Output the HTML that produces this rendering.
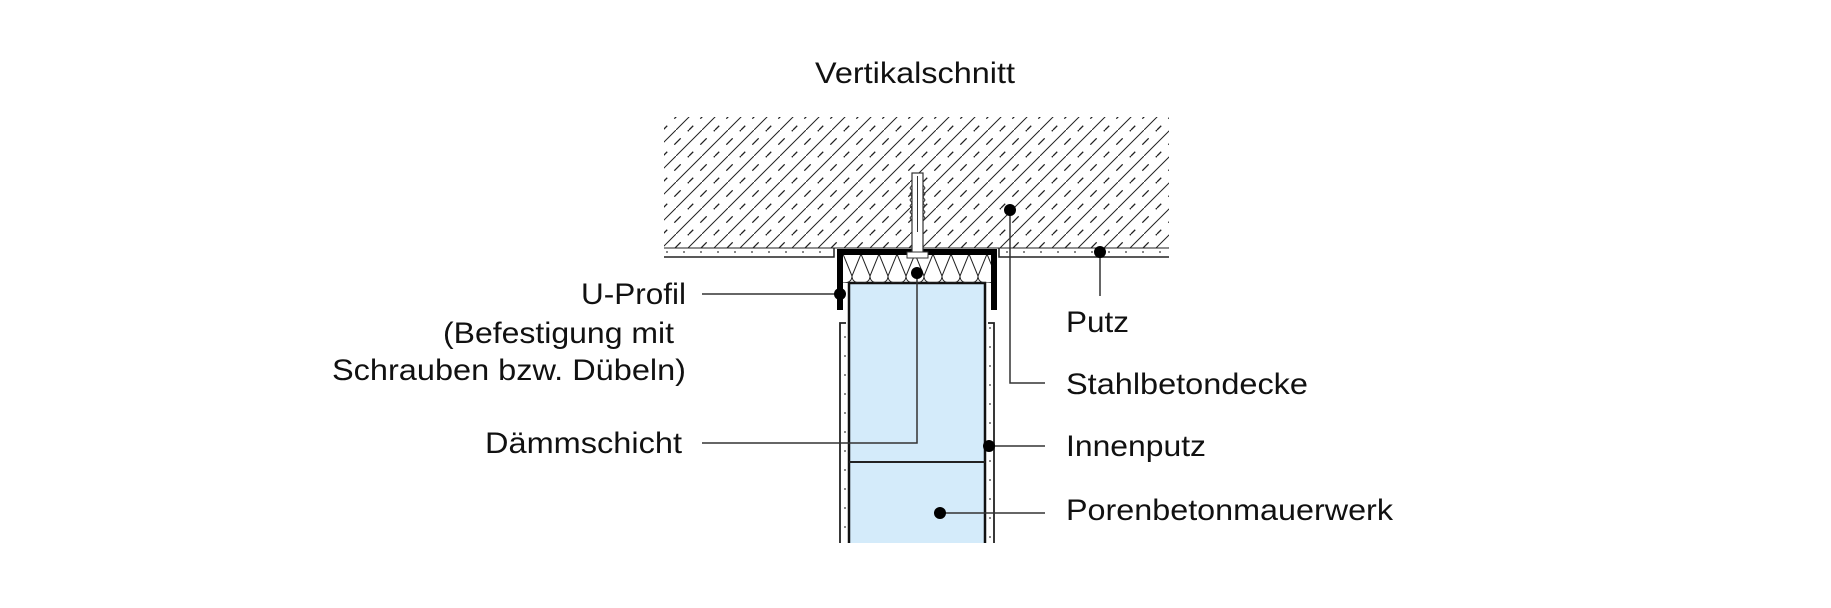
<!DOCTYPE html>
<html><head><meta charset="utf-8"><style>
body{margin:0;background:#fff;}
svg text{font-family:"Liberation Sans",sans-serif;font-size:30px;fill:#111;}
</style></head><body>
<svg width="1831" height="603" viewBox="0 0 1831 603" xmlns="http://www.w3.org/2000/svg">
<defs>
<pattern id="h" patternUnits="userSpaceOnUse" width="26" height="26">
<line x1="-2" y1="28" x2="28" y2="-2" stroke="#222" stroke-width="1"/>
<line x1="-13" y1="26" x2="13" y2="0" stroke="#222" stroke-width="1.3" stroke-dasharray="9 10" stroke-dashoffset="3"/>
<line x1="13" y1="26" x2="39" y2="0" stroke="#222" stroke-width="1.3" stroke-dasharray="9 10" stroke-dashoffset="3"/>
</pattern>
<pattern id="d" patternUnits="userSpaceOnUse" width="17" height="19">
<circle cx="4" cy="5" r="0.9" fill="#333"/><circle cx="12" cy="14" r="0.9" fill="#333"/>
</pattern>
<pattern id="ins" patternUnits="userSpaceOnUse" x="843" y="254" width="18" height="29">
<path d="M0,0 L9,22 Q9,29 18,29 M18,0 L9,22 Q9,29 0,29" fill="none" stroke="#222" stroke-width="1"/>
</pattern>
</defs>
<text x="815" y="83" textLength="200" lengthAdjust="spacingAndGlyphs">Vertikalschnitt</text>
<rect x="664" y="117" width="505" height="131" fill="url(#h)"/>
<rect x="664" y="248" width="172" height="9" fill="url(#d)"/>
<rect x="998" y="248" width="171" height="9" fill="url(#d)"/>
<path d="M664,257 H834 V248 M1169,257 H999 V248" fill="none" stroke="#222" stroke-width="1.5"/>
<line x1="664" y1="248" x2="1169" y2="248" stroke="#222" stroke-width="1"/>
<rect x="840" y="323" width="9" height="220" fill="url(#d)"/>
<rect x="985" y="323" width="9" height="220" fill="url(#d)"/>
<path d="M840,543 V323 H846 M994,543 V323 H988" fill="none" stroke="#222" stroke-width="1.8"/>
<rect x="849" y="283" width="136" height="260" fill="#d4ebfa"/>
<path d="M849,543 V283 H985 V543" fill="none" stroke="#111" stroke-width="2.5"/>
<line x1="849" y1="462" x2="985" y2="462" stroke="#222" stroke-width="2"/>
<rect x="843" y="254" width="148" height="29" fill="url(#ins)"/>
<path d="M840,310 V252 H994 V310" fill="none" stroke="#000" stroke-width="6"/>
<rect x="912" y="173" width="11" height="82" fill="#fff" stroke="#333" stroke-width="1.2"/>
<path d="M912,185 l-2,3 2,3 -2,3 2,3 -2,3 2,3 -2,3 2,3 -2,3 2,3 -2,3 2,3 M923,185 l2,3 -2,3 2,3 -2,3 2,3 -2,3 2,3 -2,3 2,3 -2,3 2,3 -2,3" fill="none" stroke="#333" stroke-width="1"/>
<line x1="917.5" y1="176" x2="917.5" y2="232" stroke="#333" stroke-width="1"/>
<rect x="907" y="252" width="21" height="6" fill="#fff" stroke="#333" stroke-width="1"/>
<g stroke="#333" stroke-width="1.5" fill="none">
<path d="M840,294 H702"/>
<path d="M917,273 V443 H702"/>
<path d="M1010,210 V383 H1045"/>
<path d="M1100,252 V296"/>
<path d="M989,446 H1045"/>
<path d="M940,513 H1045"/>
</g>
<g fill="#000">
<circle cx="840" cy="294" r="6"/>
<circle cx="917" cy="273" r="6"/>
<circle cx="1010" cy="210" r="6"/>
<circle cx="1100" cy="252" r="6"/>
<circle cx="989" cy="446" r="6"/>
<circle cx="940" cy="513" r="6"/>
</g>
<text x="1066" y="332" textLength="63" lengthAdjust="spacingAndGlyphs">Putz</text>
<text x="1066" y="394" textLength="242" lengthAdjust="spacingAndGlyphs">Stahlbetondecke</text>
<text x="1066" y="456" textLength="140" lengthAdjust="spacingAndGlyphs">Innenputz</text>
<text x="1066" y="520" textLength="327" lengthAdjust="spacingAndGlyphs">Porenbetonmauerwerk</text>
<text x="581" y="304" textLength="105" lengthAdjust="spacingAndGlyphs">U-Profil</text>
<text x="443" y="343" textLength="231" lengthAdjust="spacingAndGlyphs">(Befestigung mit</text>
<text x="332" y="380" textLength="354" lengthAdjust="spacingAndGlyphs">Schrauben bzw. Dübeln)</text>
<text x="485" y="453" textLength="197" lengthAdjust="spacingAndGlyphs">Dämmschicht</text>
</svg>
</body></html>
